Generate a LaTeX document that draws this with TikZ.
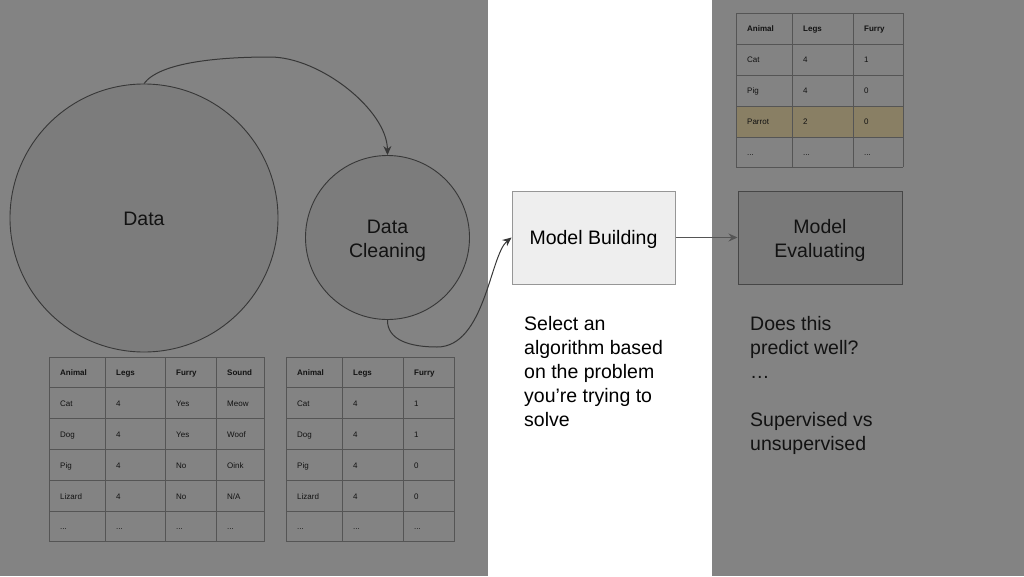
\documentclass[tikz,border=0pt]{standalone}
\usepackage{fontspec}
\setmainfont{Liberation Sans}
\usetikzlibrary{arrows.meta}
\definecolor{bggray}{RGB}{131,131,131}
\definecolor{circfill}{RGB}{124,124,124}
\definecolor{linegray}{RGB}{55,55,55}
\definecolor{tline}{RGB}{85,85,85}
\definecolor{dimtext}{RGB}{18,18,18}
\definecolor{parrotrow}{RGB}{137,127,100}
\definecolor{mbfill}{RGB}{238,238,238}
\definecolor{mbline}{RGB}{150,150,150}
\definecolor{evfill}{RGB}{121,121,121}
\definecolor{evline}{RGB}{70,70,70}
\newcommand{\tdots}{...}
\newcommand{\tfont}{\fontsize{8}{9}\selectfont}
\tikzset{
  bigtext/.style={font=\fontsize{19.5}{24}\selectfont, text=dimtext, align=center},
  circ/.style={circle, draw=linegray, fill=circfill, line width=0.9pt, inner sep=0pt, minimum size=#1},
  flow/.style={draw=linegray, line width=1pt, -{Stealth[length=9pt,width=8pt,inset=3pt]}},
  cell/.style={anchor=base west, inner sep=0pt, text=dimtext},
  tgrid/.style={draw=tline, line width=1pt},
}
\begin{document}
\begin{tikzpicture}[x=1pt,y=-1pt]
\path[use as bounding box] (0,0) rectangle (1024,576);
\fill[bggray] (0,0) rectangle (488,576);
\fill[white] (488,0) rectangle (712,576);
\fill[bggray] (712,0) rectangle (1024,576);

% circles
\node[circ=268pt, label={[bigtext, yshift=-1pt]center:Data}] (data) at (144,218) {};
\node[circ=164pt, label={[bigtext, yshift=-3pt]center:Data\\Cleaning}] (clean) at (387.5,237.5) {};

% boxes
\node[draw=mbline, fill=mbfill, line width=1pt, minimum width=163pt, minimum height=93pt,
      label={[bigtext, text=black, yshift=-2pt]center:Model Building}] (mb) at (593.5,237.5) {};
\node[draw=evline, fill=evfill, line width=1pt, minimum width=164pt, minimum height=93pt,
      label={[bigtext, yshift=-3pt]center:Model\\Evaluating}] (ev) at (820,237.5) {};

% connectors
\draw[flow] (data.north) .. controls (160,62) and (220,57) .. (270,57)
            .. controls (320,57) and (387,110) .. (clean.north);
\draw[flow] (clean.south) .. controls (387,340) and (410,347) .. (437,347)
            .. controls (485,347) and (490,255) .. (mb.west);
\draw[flow, draw=tline] (mb.east) -- (ev.west);

% side texts
\node[bigtext, text=black, align=left, anchor=north west, inner sep=0pt] (sel) at (524,316)
  {Select an\\algorithm based\\on the problem\\you’re trying to\\solve};
\node[bigtext, align=left, anchor=north west, inner sep=0pt] (eval) at (750,316)
  {Does this\\predict well?\\…\\[24pt]Supervised vs\\unsupervised};

% table A (top right)
\fill[parrotrow] (736,106) rectangle (903,137);
\foreach \x in {736,792,853,903} \draw[tgrid] (\x,13) -- (\x,167);
\foreach \y in {13,44,75,106,137,167} \draw[tgrid] (736,\y) -- (903,\y);
\foreach \a/\b/\c [count=\i from 0] in {Animal/Legs/Furry,Cat/4/1,Pig/4/0,Parrot/2/0,\tdots/\tdots/\tdots}{
  \pgfmathsetmacro\yy{13+30.8*(\i+0.5)+3.4}
  \ifnum\i=0 \def\ff{\bfseries}\else\def\ff{}\fi
  \node[cell, font=\tfont\ff] (ta-\i-1) at (747,\yy) {\a};
  \node[cell, font=\tfont\ff] (ta-\i-2) at (803,\yy) {\b};
  \node[cell, font=\tfont\ff] (ta-\i-3) at (864,\yy) {\c};
}

% table B (bottom left)
\foreach \x in {49,105,165,216,264} \draw[tgrid] (\x,357) -- (\x,542);
\foreach \i in {0,...,6} \draw[tgrid] (49,357+30.83*\i) -- (264,357+30.83*\i);
\foreach \a/\b/\c/\d [count=\i from 0] in {Animal/Legs/Furry/Sound,Cat/4/Yes/Meow,Dog/4/Yes/Woof,Pig/4/No/Oink,Lizard/4/No/N\slash A,\tdots/\tdots/\tdots/\tdots}{
  \pgfmathsetmacro\yy{357+30.83*(\i+0.5)+3.4}
  \ifnum\i=0 \def\ff{\bfseries}\else\def\ff{}\fi
  \node[cell, font=\tfont\ff] (tb-\i-1) at (60,\yy) {\a};
  \node[cell, font=\tfont\ff] (tb-\i-2) at (116,\yy) {\b};
  \node[cell, font=\tfont\ff] (tb-\i-3) at (176,\yy) {\c};
  \node[cell, font=\tfont\ff] (tb-\i-4) at (227,\yy) {\d};
}

% table C (bottom middle)
\foreach \x in {286,342,403,454} \draw[tgrid] (\x,357) -- (\x,542);
\foreach \i in {0,...,6} \draw[tgrid] (286,357+30.83*\i) -- (454,357+30.83*\i);
\foreach \a/\b/\c [count=\i from 0] in {Animal/Legs/Furry,Cat/4/1,Dog/4/1,Pig/4/0,Lizard/4/0,\tdots/\tdots/\tdots}{
  \pgfmathsetmacro\yy{357+30.83*(\i+0.5)+3.4}
  \ifnum\i=0 \def\ff{\bfseries}\else\def\ff{}\fi
  \node[cell, font=\tfont\ff] (tc-\i-1) at (297,\yy) {\a};
  \node[cell, font=\tfont\ff] (tc-\i-2) at (353,\yy) {\b};
  \node[cell, font=\tfont\ff] (tc-\i-3) at (414,\yy) {\c};
}
\end{tikzpicture}
\end{document}
